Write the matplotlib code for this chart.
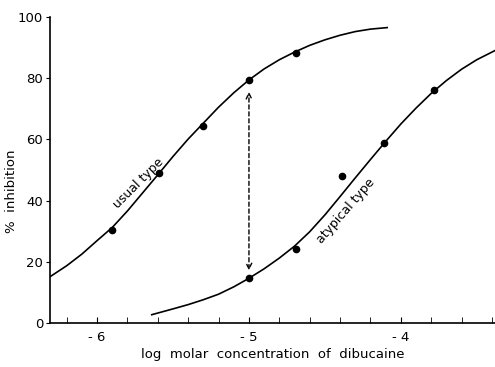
import numpy as np
import matplotlib
matplotlib.use("Agg")
import matplotlib.pyplot as plt

# measured points (log molar conc., % inhibition)
usual_x = [-5.9, -5.59, -5.3, -5.0, -4.69]
usual_y = [30.5, 49, 64.5, 79.4, 88.3]
atyp_x = [-5.0, -4.69, -4.11, -3.78]
atyp_y = [14.7, 24.2, 58.8, 76.1]
outlier_x = [-4.39]
outlier_y = [48]

# curves
usual_cx = [-6.31, -6.2, -6.1, -6.0, -5.9, -5.8, -5.7, -5.6, -5.5, -5.4, -5.3,
            -5.2, -5.1, -5.0, -4.9, -4.8, -4.7, -4.6, -4.5, -4.4, -4.3, -4.2, -4.09]
usual_cy = [15.1, 18.7, 22.5, 26.9, 31.2, 36.6, 42.5, 48.4, 54.4, 60.1, 65.3,
            70.5, 75.2, 79.4, 83.0, 86.0, 88.5, 90.7, 92.5, 94.0, 95.2, 96.0, 96.5]
atyp_cx = [-5.64, -5.5, -5.4, -5.3, -5.2, -5.1, -5.0, -4.9, -4.8, -4.7, -4.6,
           -4.5, -4.4, -4.3, -4.2, -4.1, -4.0, -3.9, -3.8, -3.7, -3.6, -3.5, -3.38]
atyp_cy = [2.7, 4.6, 6.0, 7.6, 9.4, 11.8, 14.6, 17.7, 21.2, 25.1, 29.8,
           35.3, 41.3, 47.4, 53.4, 59.3, 65.0, 70.2, 75.0, 79.2, 82.9, 86.0, 89.0]

xticks = [-6, -5, -4]
xticklabels = ["- 6", "- 5", "- 4"]
yticks = [0, 20, 40, 60, 80, 100]

fig = plt.figure(figsize=(4.95, 3.67), dpi=100)
ax = fig.add_axes([0.101, 0.12, 0.899, 0.834])

ax.plot(usual_cx, usual_cy, color="black", linewidth=1.2)
ax.plot(atyp_cx, atyp_cy, color="black", linewidth=1.2)
ax.plot(usual_x, usual_y, "o", color="black", markersize=4.5)
ax.plot(atyp_x, atyp_y, "o", color="black", markersize=4.5)
ax.plot(outlier_x, outlier_y, "o", color="black", markersize=4.5)

ax.annotate("", xy=(-5.0, 75.5), xytext=(-5.0, 17.2),
            arrowprops=dict(arrowstyle="<->", linestyle=(0, (3, 2)),
                            color="black", linewidth=1.0,
                            shrinkA=0, shrinkB=0))

ax.text(-5.73, 45.7, "usual type", rotation=45, ha="center", va="center",
        fontsize=9)
ax.text(-4.36, 36.6, "atypical type", rotation=49, ha="center", va="center",
        fontsize=9)

ax.set_xlim(-6.31, -3.38)
ax.set_ylim(0, 100)
ax.set_xticks(xticks)
ax.set_xticklabels(xticklabels)
ax.set_xticks(np.arange(-6.2, -3.38, 0.2), minor=True)
ax.set_yticks(yticks)
ax.tick_params(axis="x", which="both", direction="in", length=4, labelsize=9.5, pad=6)
ax.tick_params(axis="y", direction="out", length=3, labelsize=9.5, pad=2)

ax.spines["top"].set_visible(False)
ax.spines["right"].set_visible(False)
ax.spines["left"].set_linewidth(1.2)
ax.spines["bottom"].set_linewidth(1.2)

ax.set_xlabel("log  molar  concentration  of  dibucaine", fontsize=9.5, labelpad=3)
ax.set_ylabel("%  inhibition", fontsize=9.5)
ax.yaxis.set_label_coords(-0.072, 0.43)

fig.savefig("out.png", dpi=100)
